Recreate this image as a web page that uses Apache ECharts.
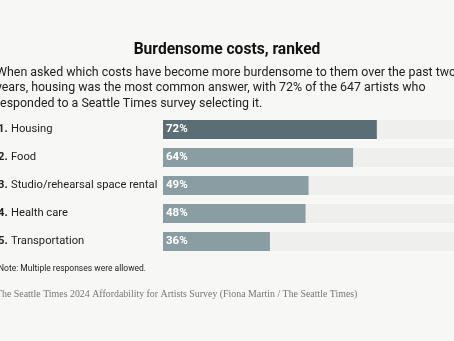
<!DOCTYPE html>
<html><head><meta charset="utf-8">
<script src="https://cdn.jsdelivr.net/npm/echarts@6/dist/echarts.min.js"></script>
<style>html,body{margin:0;padding:0;background:#f7f7f5;}#c{width:454px;height:341px;}</style>
</head><body><div id="c"></div>
<script>
const categories = ['Housing', 'Food', 'Studio/rehearsal space rental', 'Health care', 'Transportation'];
const ranks = ['1.', '2.', '3.', '4.', '5.'];
const values = [72, 64, 49, 48, 36];
const barColors = ['#5b6e75', '#8a9da3', '#8a9da3', '#8a9da3', '#8a9da3'];
const titleText = 'Burdensome costs, ranked';
const subtitleLines = [
  'When asked which costs have become more burdensome to them over the past two',
  'years, housing was the most common answer, with 72% of the 647 artists who',
  'responded to a Seattle Times survey selecting it.'
];
const noteText = 'Note: Multiple responses were allowed.';
const sourceText = 'The Seattle Times 2024 Affordability for Artists Survey (Fiona Martin / The Seattle Times)';

const chart = echarts.init(document.getElementById('c'), null, {renderer: 'canvas'});
const F = 'Roboto, "Noto Sans", sans-serif';
chart.setOption({
  backgroundColor: '#f7f7f5',
  animation: false,
  grid: {left: 163, top: 115.5, width: 297, height: 140, containLabel: false, outerBoundsMode: 'none'},
  xAxis: {type: 'value', min: 0, max: 100, show: false},
  yAxis: {
    type: 'category', inverse: true,
    data: categories.map((c, i) => ranks[i] + '|' + c),
    axisLine: {show: false}, axisTick: {show: false},
    axisLabel: {
      align: 'left', margin: 165,
      formatter: v => { const p = v.split('|'); return '{b|' + p[0] + '} {n|' + p[1] + '}'; },
      rich: {
        b: {fontFamily: F, fontWeight: 'bold', fontSize: 11.2, color: '#222'},
        n: {fontFamily: F, fontSize: 11.2, color: '#222'}
      }
    }
  },
  series: [{
    type: 'bar', barWidth: 19,
    data: values.map((v, i) => ({value: v, itemStyle: {color: barColors[i]}})),
    showBackground: true,
    backgroundStyle: {color: '#efefee'},
    label: {show: true, position: 'insideLeft', offset: [-2, 0], formatter: '{c}%', color: '#fff', fontWeight: 'bold', fontSize: 11.5, fontFamily: F}
  }],
  graphic: [
    {type: 'text', left: 'center', top: 42, style: {text: titleText, font: 'bold 15.6px ' + F, fill: '#111'}},
    {type: 'text', x: -4, y: 65, style: {text: subtitleLines.join('\n'), font: '12.4px ' + F, fill: '#222', lineHeight: 15.5}},
    {type: 'text', x: -2, y: 264, style: {text: noteText, font: '8.5px ' + F, fill: '#222'}},
    {type: 'text', x: -4, y: 289, style: {text: sourceText, font: '9.9px "Liberation Serif", "DejaVu Serif", serif', fill: '#777'}}
  ]
});
</script></body></html>
